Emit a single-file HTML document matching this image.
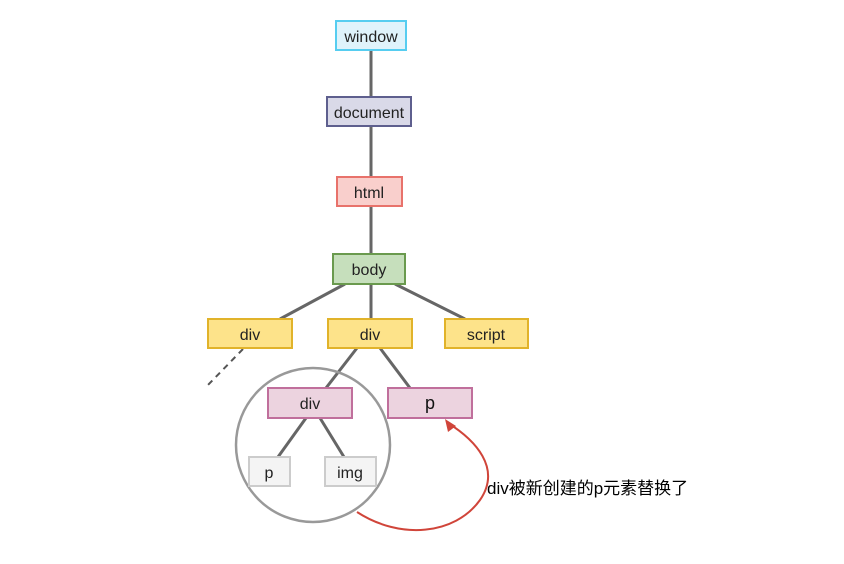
<!DOCTYPE html>
<html><head><meta charset="utf-8"><style>
body{margin:0;background:#fff;width:844px;height:559px;overflow:hidden}
</style></head><body>
<svg width="844" height="559" xmlns="http://www.w3.org/2000/svg" font-family="'Liberation Sans','Noto Sans CJK SC',sans-serif">
<g stroke="#666" stroke-width="3" fill="none">
<line x1="371" y1="50" x2="371" y2="97"/>
<line x1="371" y1="126" x2="371" y2="177"/>
<line x1="371" y1="206" x2="371" y2="254"/>
<line x1="371" y1="284" x2="371" y2="319"/>
<line x1="345" y1="284" x2="280" y2="319"/>
<line x1="395" y1="284" x2="465" y2="319"/>
<line x1="357" y1="348" x2="326" y2="388"/>
<line x1="380" y1="348" x2="410" y2="388"/>
<line x1="306" y1="418" x2="278" y2="457"/>
<line x1="320" y1="418" x2="344" y2="457"/>
</g>
<line x1="243" y1="349" x2="206" y2="387" stroke="#555" stroke-width="2" stroke-dasharray="6,5"/>
<circle cx="313" cy="445" r="77" fill="none" stroke="#999" stroke-width="2.5"/>
<path d="M357,512 C400,540 455,535 480,500 C502,468 475,440 448,423" fill="none" stroke="#d0453a" stroke-width="2"/>
<polygon points="445,419 456,426 448,432" fill="#d0453a"/>
<g stroke-width="2" font-size="16" text-anchor="middle" font-weight="normal">
<rect x="336" y="21" width="70" height="29" fill="#dff3fb" stroke="#56cdf0"/>
<text x="371" y="42" fill="#222" stroke="none">window</text>
<rect x="327" y="97" width="84" height="29" fill="#d9d9e8" stroke="#5e5f8e"/>
<text x="369" y="118" fill="#222" stroke="none">document</text>
<rect x="337" y="177" width="65" height="29" fill="#f9cfcc" stroke="#e8726b"/>
<text x="369" y="198" fill="#222" stroke="none">html</text>
<rect x="333" y="254" width="72" height="30" fill="#c6dfbc" stroke="#6a9a4e"/>
<text x="369" y="275" fill="#222" stroke="none">body</text>
<rect x="208" y="319" width="84" height="29" fill="#fde38a" stroke="#e1b32a"/>
<text x="250" y="340" fill="#222" stroke="none">div</text>
<rect x="328" y="319" width="84" height="29" fill="#fde38a" stroke="#e1b32a"/>
<text x="370" y="340" fill="#222" stroke="none">div</text>
<rect x="445" y="319" width="83" height="29" fill="#fde38a" stroke="#e1b32a"/>
<text x="486" y="340" fill="#222" stroke="none">script</text>
<rect x="268" y="388" width="84" height="30" fill="#ecd3df" stroke="#c06f9c"/>
<text x="310" y="409" fill="#222" stroke="none">div</text>
<rect x="388" y="388" width="84" height="30" fill="#ecd3df" stroke="#c06f9c"/>
<text x="430" y="409" fill="#111" stroke="none" font-size="18">p</text>
<rect x="249" y="457" width="41" height="29" fill="#f4f4f4" stroke="#ccc"/>
<text x="269" y="478" fill="#222" stroke="none">p</text>
<rect x="325" y="457" width="51" height="29" fill="#f4f4f4" stroke="#ccc"/>
<text x="350" y="478" fill="#222" stroke="none">img</text>
</g>
<text x="487" y="494" font-size="17" fill="#000">div被新创建的p元素替换了</text>
</svg>
</body></html>
